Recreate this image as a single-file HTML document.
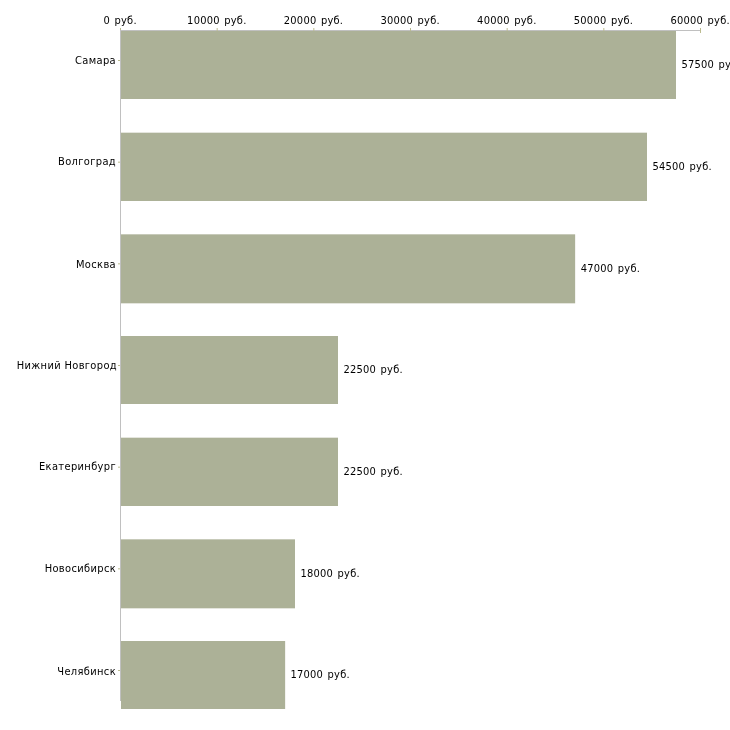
<!DOCTYPE html>
<html lang="ru">
<head>
<meta charset="utf-8">
<title>Средняя зарплата по городам</title>
<style>
html,body{margin:0;padding:0;background:#fff;}
body{width:730px;height:730px;overflow:hidden;}
svg{display:block;position:absolute;left:0;top:0;}
text{font-family:"DejaVu Sans Condensed","DejaVu Sans","Liberation Sans",sans-serif;font-stretch:condensed;font-size:11px;fill:#000;}
.x{text-anchor:middle;letter-spacing:0.25px;word-spacing:1px;}
.y{text-anchor:end;letter-spacing:0.35px;}
.v{text-anchor:start;letter-spacing:0.25px;word-spacing:1px;}
.bar{fill:#acb197;}
.ax{fill:#c0c0c0;}
.tk{fill:#bcbc90;}
</style>
</head>
<body>
<svg width="730" height="730" viewBox="0 0 730 730">
<rect x="0" y="0" width="730" height="730" fill="#ffffff"/>
<rect class="ax" x="120" y="30" width="580" height="1"/>
<g class="tk">
<rect x="120" y="28" width="1" height="5"/>
<rect x="216.67" y="28" width="1" height="5"/>
<rect x="313.33" y="28" width="1" height="5"/>
<rect x="410" y="28" width="1" height="5"/>
<rect x="506.67" y="28" width="1" height="5"/>
<rect x="603.33" y="28" width="1" height="5"/>
<rect x="700" y="28" width="1" height="5"/>
<rect x="118" y="60" width="5" height="1"/>
<rect x="118" y="161.67" width="5" height="1"/>
<rect x="118" y="263.33" width="5" height="1"/>
<rect x="118" y="365" width="5" height="1"/>
<rect x="118" y="466.67" width="5" height="1"/>
<rect x="118" y="568.33" width="5" height="1"/>
<rect x="118" y="670" width="5" height="1"/>
</g>
<rect class="ax" x="120" y="30" width="1" height="671"/>
<g class="bar">
<rect x="121" y="31" width="555" height="68"/>
<rect x="121" y="132.67" width="526" height="68.33"/>
<rect x="121" y="234.33" width="454.15" height="69"/>
<rect x="121" y="336" width="217" height="68"/>
<rect x="121" y="437.67" width="217" height="68.33"/>
<rect x="121" y="539.33" width="174" height="69"/>
<rect x="121" y="641" width="164.15" height="68"/>
</g>
<g class="x">
<text x="120.2" y="24">0 руб.</text>
<text x="216.87" y="24">10000 руб.</text>
<text x="313.53" y="24">20000 руб.</text>
<text x="410.2" y="24">30000 руб.</text>
<text x="506.87" y="24">40000 руб.</text>
<text x="603.53" y="24">50000 руб.</text>
<text x="700.2" y="24">60000 руб.</text>
</g>
<g class="y">
<text x="116" y="64">Самара</text>
<text x="116" y="165">Волгоград</text>
<text x="116" y="268">Москва</text>
<text x="117" y="369">Нижний Новгород</text>
<text x="116" y="470">Екатеринбург</text>
<text x="116" y="572">Новосибирск</text>
<text x="116" y="675">Челябинск</text>
</g>
<g class="v">
<text x="681.4" y="68">57500 руб.</text>
<text x="652.4" y="170">54500 руб.</text>
<text x="580.7" y="272">47000 руб.</text>
<text x="343.4" y="373">22500 руб.</text>
<text x="343.4" y="475">22500 руб.</text>
<text x="300.4" y="577">18000 руб.</text>
<text x="290.4" y="678">17000 руб.</text>
</g>
</svg>
</body>
</html>
